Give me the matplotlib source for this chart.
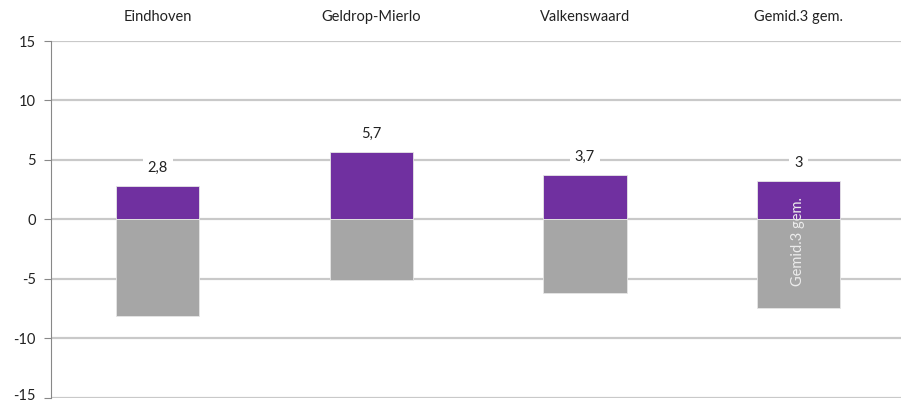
import matplotlib.pyplot as plt
import matplotlib.transforms as mtransforms

plt.rcParams["font.family"] = ["Lato", "DejaVu Sans"]

categories = ["Eindhoven", "Geldrop-Mierlo", "Valkenswaard", "Gemid.3 gem."]
positive = [2.8, 5.7, 3.7, 3.2]
negative = [-8.1, -5.1, -6.2, -7.5]
value_labels = ["2,8", "5,7", "3,7", "3"]
y_ticks = [-15, -10, -5, 0, 5, 10, 15]

purple = "#7030a0"
grey = "#a6a6a6"
grid_col = "#c9c9c9"

fig = plt.figure(figsize=(9.01, 4.04), dpi=100)
ax = fig.add_axes([0.0566, 0.016, 0.9434, 0.8825])

x = range(len(categories))
ax.bar(x, positive, width=0.39, color=purple, edgecolor="#e6e6e6", linewidth=0.6, zorder=3)
ax.bar(x, negative, width=0.39, color=grey, edgecolor="#e6e6e6", linewidth=0.6, zorder=3)

for xi, val, lab in zip(x, positive, value_labels):
    ax.annotate(lab, (xi, val), xytext=(0, 8), textcoords="offset points",
                ha="center", va="bottom", fontsize=10.5, color="#222222", zorder=4,
                bbox=dict(boxstyle="square,pad=0.35", fc="white", ec="none"))

# category names along the top
trans = mtransforms.blended_transform_factory(ax.transData, ax.transAxes)
for xi, cat in zip(x, categories):
    ax.text(xi, 1.067, cat, transform=trans, ha="center", va="center",
            fontsize=10.5, color="#222222")

# stray rotated label inside the last bar
ax.text(3, -1.9, categories[3], rotation=90, ha="center", va="center",
        fontsize=10.5, color="#ececec", zorder=5)

ax.set_ylim(-15, 15)
ax.set_xlim(-0.5, 3.48)
ax.set_yticks(y_ticks)
ax.set_yticklabels([str(t) for t in y_ticks], fontsize=10.5, color="#222222")
ax.set_xticks([])
ax.yaxis.grid(True, color=grid_col, linewidth=1.6, zorder=0)
ax.set_axisbelow(True)
ax.tick_params(axis="y", length=5, color="#888888", width=0.8, pad=6)

# keep the bottom tick label inside the canvas
bottom_label = ax.get_yticklabels()[0]
bottom_label.set_transform(bottom_label.get_transform()
                           + mtransforms.ScaledTranslation(0, 2.5 / 72, fig.dpi_scale_trans))

for side in ["top", "right", "bottom"]:
    ax.spines[side].set_visible(False)
ax.spines["left"].set_color("#888888")
ax.spines["left"].set_linewidth(0.8)

fig.savefig("out.png", dpi=100)
